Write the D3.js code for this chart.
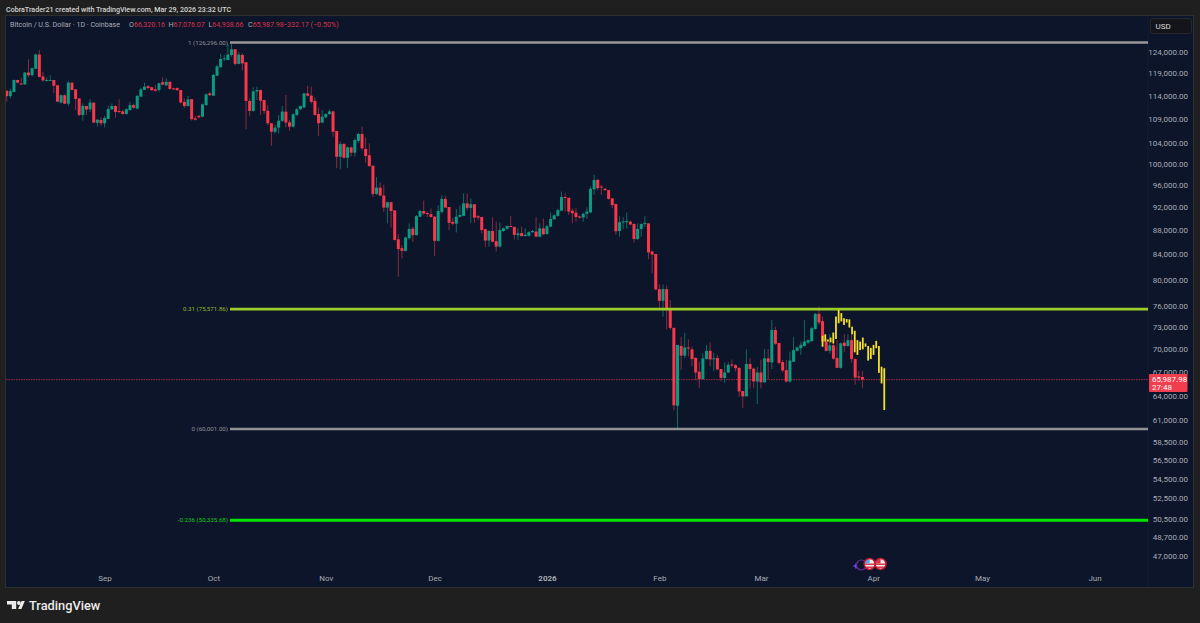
<!DOCTYPE html>
<html>
<head>
<meta charset="utf-8">
<script src="https://cdn.jsdelivr.net/npm/d3@7"></script>
<style>
  html, body { margin: 0; padding: 0; background: #1f1f1f; overflow: hidden; }
  svg { display: block; font-family: Roboto, "Liberation Sans", sans-serif; }
</style>
</head>
<body>
<svg id="chart" width="1200" height="623"></svg>
<script>
// daily BTCUSD candles in thousands of USD, first one is 2025-08-05
const firstDay = Date.UTC(2025, 7, 5);
const opens = [
  115.1,113.9,114.8,117.5,116.7,116.5,119.2,118.6,120.1,123.4,
  118.3,117.4,117.4,117.5,116.3,112.5,114.1,112.25,116.9,115.4,
  113.4,109.85,111.75,111.05,112.5,108.2,108.8,108.1,109.0,111.05,
  111.75,110.7,110.6,110.05,110.9,111.95,111.2,113.8,115.3,116.1,
  115.85,115.4,115.25,117.0,116.3,117.1,115.6,115.7,115.25,112.65,
  111.75,113.25,109.15,109.65,109.5,111.95,114.5,114.0,118.45,120.4,
  122.3,122.1,123.3,124.65,121.2,123.3,121.6,112.85,110.7,114.9,
  115.25,113.05,110.75,108.1,106.35,107.2,108.6,110.55,108.3,107.4,
  109.85,111.05,111.45,114.5,114.0,112.85,110.05,108.25,109.35,110.05,
  110.6,106.5,101.35,103.9,101.15,103.2,102.15,104.5,105.9,102.9,
  101.65,99.6,94.35,95.5,94.05,91.9,92.85,91.4,86.45,85.0,
  84.55,86.65,88.25,87.15,90.3,91.3,90.95,90.75,90.3,86.2,
  91.15,93.45,92.0,89.4,89.1,90.3,90.45,92.65,91.85,92.5,
  90.4,90.25,88.15,86.25,87.85,86.15,85.25,87.85,88.25,88.7,
  88.55,87.15,87.5,87.0,87.05,87.65,87.75,86.9,88.3,87.35,
  88.6,89.85,90.45,91.35,93.8,93.65,91.35,91.0,90.35,90.15,
  90.8,91.05,95.2,96.95,95.7,95.3,95.05,93.55,92.55,87.85,
  89.35,89.35,89.45,89.05,86.5,88.2,89.05,89.15,84.45,84.05,
  78.55,76.8,78.55,75.7,72.9,62.75,70.4,69.1,70.2,69.95,
  68.8,67.0,66.05,68.65,69.75,68.65,68.8,67.35,66.2,66.9,
  67.95,67.85,67.5,64.55,63.9,68.0,67.4,65.75,66.9,65.65,
  68.75,68.2,72.6,70.8,68.25,67.2,65.75,68.3,69.75,70.1,
  70.4,70.85,71.05,72.75,74.9,73.85,71.0,69.75,70.5,68.8,
  67.5,70.85,70.4,71.2,68.65,66.4,66.32
];
const highs = [
  115.1,115.6,117.6,117.6,118.0,119.3,122.3,120.3,123.7,124.5,
  119.4,118.1,118.6,117.5,116.3,114.3,114.3,117.3,117.0,115.4,
  113.4,112.3,111.8,113.25,112.5,108.95,109.35,109.6,111.85,112.3,
  111.95,113.2,110.9,111.25,112.65,112.3,114.15,115.65,116.9,116.35,
  116.0,116.35,116.9,118.1,117.9,117.1,115.75,115.85,115.25,113.4,
  113.95,113.25,109.65,109.85,112.3,114.5,114.9,118.9,121.0,123.6,
  123.3,125.9,126.2,124.7,124.0,123.7,121.6,113.4,115.85,116.0,
  115.25,113.05,111.95,108.1,107.75,109.85,111.75,114.15,108.8,110.2,
  111.4,111.9,114.65,116.2,116.0,113.65,111.45,110.9,110.2,111.05,
  110.75,106.5,104.35,104.0,103.4,103.4,105.0,106.2,107.4,105.2,
  104.0,99.75,97.5,96.5,96.0,92.95,92.95,91.4,87.35,85.5,
  86.9,89.15,88.6,90.6,91.55,93.15,91.2,91.75,90.45,92.35,
  94.05,94.0,92.0,90.1,91.65,92.25,94.45,94.45,93.55,92.5,
  90.6,90.3,88.25,88.0,90.2,89.45,89.3,88.45,88.85,90.4,
  88.55,88.3,88.6,88.3,87.85,88.0,90.2,89.15,90.0,88.9,
  91.05,90.75,91.75,94.8,94.45,93.65,91.75,91.85,90.5,91.0,
  91.95,95.7,97.9,97.1,96.0,95.45,95.05,93.55,92.55,90.4,
  90.25,91.05,89.6,89.15,89.15,89.15,90.4,89.15,84.55,84.05,
  79.3,79.25,79.1,76.9,72.95,70.55,71.65,72.2,71.3,70.3,
  68.9,68.3,69.4,70.55,70.9,69.45,69.2,67.35,68.2,68.25,
  68.6,68.0,67.55,64.55,69.95,68.75,67.55,67.65,68.55,70.0,
  70.0,74.0,73.05,70.8,68.55,68.55,69.65,71.65,70.3,71.0,
  74.0,71.3,73.05,75.0,75.95,74.5,71.45,72.0,72.0,71.2,
  70.9,72.0,72.0,72.0,68.75,67.1,67.08
];
const lows = [
  112.7,113.4,114.8,116.75,116.4,116.4,118.1,118.3,120.0,118.1,
  117.1,117.2,117.3,114.6,112.65,112.3,112.2,111.75,115.25,110.9,
  109.6,108.65,109.85,110.45,108.1,107.4,107.55,107.25,109.0,110.9,
  109.25,110.2,109.9,109.9,110.75,111.2,111.05,113.65,115.25,115.4,
  115.1,114.9,114.9,116.3,116.15,115.25,115.3,115.1,112.3,111.3,
  111.6,108.65,108.65,109.15,109.35,111.8,114.0,113.95,118.4,120.4,
  121.9,122.1,122.9,120.8,121.1,119.65,106.9,109.65,110.55,113.05,
  109.85,110.05,107.75,103.5,106.0,106.0,108.45,107.25,106.55,107.25,
  109.65,110.9,111.3,113.8,112.3,109.65,105.5,108.1,109.15,109.85,
  105.35,99.15,98.95,101.0,99.2,101.4,101.4,104.1,102.6,100.2,
  99.4,93.8,94.15,94.0,91.1,89.15,88.45,86.25,80.45,83.35,
  84.45,86.45,86.05,87.05,90.2,90.55,90.2,90.15,83.7,86.05,
  90.85,91.8,88.0,88.85,87.6,90.15,90.45,91.45,89.25,89.25,
  89.7,87.45,85.15,85.25,85.95,84.45,85.1,87.7,88.0,88.5,
  86.4,86.35,86.9,86.9,86.9,87.55,86.8,86.8,87.15,87.2,
  88.5,89.75,90.35,91.3,91.2,90.6,89.15,89.45,89.95,89.45,
  89.9,91.0,94.2,95.0,94.15,94.9,93.35,91.8,87.2,86.9,
  88.15,88.25,88.85,85.9,86.35,86.85,88.55,83.2,81.0,78.4,
  75.75,74.5,72.7,72.65,62.2,60.0,67.2,68.75,69.0,67.75,
  65.95,64.95,66.05,68.6,67.7,67.1,67.2,65.75,65.6,66.8,
  67.55,67.05,63.85,62.45,63.9,64.9,64.9,62.95,64.9,65.55,
  66.05,67.35,70.55,67.95,66.9,65.6,65.6,68.3,69.65,69.2,
  70.3,70.7,71.0,72.65,73.3,70.95,69.65,69.4,68.55,67.45,
  67.4,69.6,70.3,68.15,65.35,65.8,64.94
];
const closes = [
  113.9,115.0,117.5,116.9,116.5,119.2,118.6,120.2,123.4,118.2,
  117.4,117.5,117.5,116.2,112.7,114.1,112.25,116.9,115.25,113.3,
  109.85,111.8,111.0,112.5,108.25,108.85,108.1,109.2,111.1,111.75,
  110.5,110.5,110.05,111.05,111.95,111.4,113.95,115.4,116.0,115.7,
  115.2,115.1,116.75,116.45,117.1,115.5,115.4,115.2,112.5,111.75,
  113.2,108.95,108.85,109.35,112.1,114.3,114.1,118.65,120.6,122.35,
  122.5,123.4,124.65,121.2,123.4,121.3,112.85,110.7,114.95,115.25,
  112.9,110.7,108.1,106.35,107.2,108.65,110.55,108.25,107.4,110.0,
  111.05,111.75,114.5,114.0,112.65,109.85,108.1,109.5,110.05,110.6,
  106.35,101.35,103.85,101.15,103.2,102.15,104.67,105.9,103.0,101.5,
  99.55,94.35,95.5,94.05,91.9,92.85,91.3,86.35,84.85,84.55,
  86.75,88.2,87.15,90.4,91.3,90.85,90.75,90.25,86.2,91.3,
  93.45,91.9,89.25,89.1,90.3,90.6,92.65,91.85,92.5,90.15,
  90.15,88.0,86.25,87.85,86.05,85.25,88.0,88.3,88.7,88.6,
  87.2,87.45,87.0,87.2,87.65,87.85,86.9,88.3,87.3,88.65,
  89.9,90.55,91.45,93.8,93.65,91.2,90.9,90.25,90.15,90.8,
  91.2,95.3,96.9,95.4,95.55,95.05,93.45,92.35,87.8,89.35,
  89.5,89.55,88.95,86.5,88.2,89.05,89.2,84.3,83.95,78.5,
  76.8,78.55,75.6,72.9,62.8,70.55,69.1,70.2,70.05,68.65,
  66.9,66.05,68.75,69.75,68.6,68.75,67.3,66.2,66.9,67.9,
  67.8,67.45,64.5,63.9,68.0,67.35,65.75,66.9,65.65,68.75,
  68.25,72.6,70.7,68.15,67.15,65.75,68.45,69.85,70.2,70.55,
  71.0,71.2,72.85,74.9,73.65,71.0,69.75,70.5,68.7,67.5,
  70.75,70.4,71.2,68.65,66.25,66.25,65.99
];

// the yellow bars pattern copied onto the chart, starts on candle 225
const ghostStart = 225;
const ghostStep = 0.74;
const ghostHighs = [71.8,72.0,71.3,71.55,72.25,74.5,75.46,75.0,74.25,74.15,74.1,73.05,72.5,71.2,71.0,71.55,70.75,70.4,70.15,70.55,71.1,70.4,67.65,67.45];
const ghostLows = [70.3,71.0,71.0,70.9,70.75,71.35,73.55,73.8,73.3,73.65,72.95,72.0,69.55,69.2,69.85,69.95,70.3,68.45,68.65,69.2,70.1,66.85,65.5,62.24];

const priceTicks = [124000,119000,114000,109000,104000,100000,96000,92000,88000,84000,80000,76000,73000,70000,67000,64000,61000,58500,56500,54500,52500,50500,48700,47000];
const monthTicks = [[2025,8,'Sep'],[2025,9,'Oct'],[2025,10,'Nov'],[2025,11,'Dec'],[2026,0,'2026'],[2026,1,'Feb'],[2026,2,'Mar'],[2026,3,'Apr'],[2026,4,'May'],[2026,5,'Jun']];

const fibPrices = [126296, 75571.86, 60001, 50335.68];
const fibLabels = ['1 (126,296.00)', '0.31 (75,571.86)', '0 (60,001.00)', '-0.236 (50,335.68)'];
const fibColors = ['#989898', '#9ccc28', '#929292', '#00e600'];
const fibLabelColors = ['#8f9299', '#8fb52c', '#8f9299', '#11c911'];
const fibWidths = [2.7, 2.7, 2.7, 3];

const lastPrice = 65987.98;
const eventDays = [Date.UTC(2026, 2, 31), Date.UTC(2026, 3, 3)];

const dayMs = 86400000;
const x = d3.scaleUtc()
    .domain([firstDay, Date.UTC(2026, 5, 1)])
    .range([6.7, 1094.5]);
const y = d3.scaleLog()
    .domain([60001, 126296])
    .range([429, 42.5]);
const dayX = (i) => x(firstDay + i * dayMs);
const red = '#f7374a';
const green = '#0b9a82';

const svg = d3.select('#chart');
const paneRight = 1148;

svg.append('rect').attr('width', 1200).attr('height', 623).attr('fill', '#1f1f1f');
svg.append('rect')
    .attr('x', 5.5).attr('y', 15.5).attr('width', 1188).attr('height', 572)
    .attr('fill', '#0d152b').attr('stroke', '#2d2f33');

svg.append('defs').append('clipPath').attr('id', 'pane')
  .append('rect').attr('x', 6).attr('y', 16).attr('width', paneRight - 6).attr('height', 571);

svg.append('line')
    .attr('x1', paneRight).attr('x2', paneRight).attr('y1', 16).attr('y2', 587)
    .attr('stroke', '#141c30');

// last price line goes under the candles
svg.append('line')
    .attr('x1', 6).attr('x2', paneRight)
    .attr('y1', y(lastPrice)).attr('y2', y(lastPrice))
    .attr('stroke', '#a8253d').attr('stroke-dasharray', '1.5 1').attr('stroke-width', 1);

const candles = svg.append('g').attr('clip-path', 'url(#pane)');
const rows = d3.range(opens.length);

candles.selectAll('line.wick')
  .data(rows)
  .join('line')
    .attr('class', 'wick')
    .attr('x1', (i) => dayX(i)).attr('x2', (i) => dayX(i))
    .attr('y1', (i) => y(highs[i] * 1000))
    .attr('y2', (i) => y(lows[i] * 1000))
    .attr('stroke', (i) => closes[i] >= opens[i] ? '#0e6a62' : '#8a2b3d')
    .attr('stroke-width', 1);

candles.selectAll('rect.body')
  .data(rows)
  .join('rect')
    .attr('class', 'body')
    .attr('x', (i) => dayX(i) - 1.5)
    .attr('width', 3)
    .attr('y', (i) => y(Math.max(opens[i], closes[i]) * 1000))
    .attr('height', (i) => Math.max(1, Math.abs(y(opens[i] * 1000) - y(closes[i] * 1000))))
    .attr('fill', (i) => closes[i] >= opens[i] ? green : red);

// fib levels sit above the candles
const fibs = svg.append('g');
fibPrices.forEach((price, i) => {
    fibs.append('line')
        .attr('x1', 230).attr('x2', paneRight)
        .attr('y1', y(price)).attr('y2', y(price))
        .attr('stroke', fibColors[i])
        .attr('stroke-width', fibWidths[i]);
    fibs.append('text')
        .attr('x', 228).attr('y', y(price) + 2.2)
        .attr('text-anchor', 'end')
        .attr('font-size', 6.2)
        .attr('fill', fibLabelColors[i])
        .text(fibLabels[i]);
});

svg.append('g')
  .selectAll('line')
  .data(ghostHighs)
  .join('line')
    .attr('x1', (d, j) => dayX(ghostStart + j * ghostStep))
    .attr('x2', (d, j) => dayX(ghostStart + j * ghostStep))
    .attr('y1', (d) => y(d * 1000))
    .attr('y2', (d, j) => y(ghostLows[j] * 1000))
    .attr('stroke', '#f5e02e')
    .attr('stroke-width', 1.8);

// price axis
const yAxis = d3.axisRight(y)
    .tickValues(priceTicks)
    .tickFormat(d3.format(',.2f'))
    .tickSize(0);
const yAxisGroup = svg.append('g')
    .attr('transform', `translate(${paneRight},0)`)
    .call(yAxis);
yAxisGroup.select('.domain').remove();
yAxisGroup.selectAll('text')
    .attr('x', 40)
    .attr('text-anchor', 'end')
    .attr('font-family', 'Roboto, sans-serif')
    .attr('font-size', 8)
    .attr('fill', '#a9acb5');

// time axis
const xAxis = d3.axisBottom(x)
    .tickValues(monthTicks.map((m) => Date.UTC(m[0], m[1], 1)))
    .tickFormat((d, i) => monthTicks[i][2])
    .tickSize(0);
const xAxisGroup = svg.append('g')
    .attr('transform', 'translate(0,572)')
    .call(xAxis);
xAxisGroup.select('.domain').remove();
xAxisGroup.selectAll('text')
    .attr('y', 3)
    .attr('font-family', 'Roboto, sans-serif')
    .attr('font-size', 8)
    .attr('fill', '#a9acb5')
    .attr('font-weight', (d, i) => monthTicks[i][2] === '2026' ? 700 : 400);

// USD button and last price tag
svg.append('rect')
    .attr('x', 1150.5).attr('y', 18.5).attr('width', 41).attr('height', 15).attr('rx', 2)
    .attr('fill', '#14151a').attr('stroke', '#26282e');
svg.append('text')
    .attr('x', 1155.5).attr('y', 29)
    .attr('font-size', 8).attr('fill', '#d8d9dc')
    .text('USD');

const tagY = y(lastPrice) - 5.5;
svg.append('rect')
    .attr('x', 1149).attr('y', tagY).attr('width', 38.5).attr('height', 18).attr('rx', 1)
    .attr('fill', '#f23d4f');
svg.append('text')
    .attr('x', 1152).attr('y', tagY + 8)
    .attr('font-size', 8).attr('fill', '#fff')
    .text(d3.format(',.2f')(lastPrice));
svg.append('text')
    .attr('x', 1152).attr('y', tagY + 16)
    .attr('font-size', 8).attr('fill', '#fff')
    .text('27:48');

// economic event markers under the chart
const events = svg.append('g');
events.append('path').attr('d', 'M853.5 566h5M856 563.5v5').attr('stroke', '#7a4cff').attr('stroke-width', 1.6);
events.append('circle').attr('cx', 861.5).attr('cy', 565).attr('r', 5).attr('fill', '#0d152b').attr('stroke', '#6a2a98').attr('stroke-width', 1.2);
eventDays.forEach((day, n) => {
    const cx = x(day);
    const cy = 564;
    const clipId = `flag${n}`;
    events.append('clipPath').attr('id', clipId).append('circle').attr('cx', cx).attr('cy', cy).attr('r', 5);
    const flag = events.append('g').attr('clip-path', `url(#${clipId})`);
    flag.append('rect').attr('x', cx - 6).attr('y', cy - 6).attr('width', 12).attr('height', 12).attr('fill', '#f1e9ea');
    flag.append('rect').attr('x', cx - 6).attr('y', cy - 0.5).attr('width', 12).attr('height', 1.5).attr('fill', '#d8394a');
    flag.append('rect').attr('x', cx - 6).attr('y', cy + 2.5).attr('width', 12).attr('height', 1.5).attr('fill', '#d8394a');
    flag.append('rect').attr('x', cx - 6).attr('y', cy - 6).attr('width', 6).attr('height', 5.5).attr('fill', n === 0 ? '#5aa2e8' : '#d8394a');
    events.append('circle').attr('cx', cx).attr('cy', cy).attr('r', 5.5).attr('fill', 'none').attr('stroke', '#c8172d').attr('stroke-width', 1.4);
});

// top strip and legend
svg.append('text')
    .attr('x', 6).attr('y', 11.5)
    .attr('font-size', 7.1).attr('font-weight', 500).attr('fill', '#d5d5d5')
    .text('CobraTrader21 created with TradingView.com, Mar 29, 2026 23:32 UTC');

const legend = svg.append('g').attr('font-size', 7.1);
legend.append('text').attr('x', 10).attr('y', 27).attr('fill', '#a9acb5')
    .text('Bitcoin / U.S. Dollar · 1D · Coinbase');
const legendParts = [
    [129, 'O', '66,320.16'],
    [168.5, 'H', '67,076.07'],
    [208.5, 'L', '64,938.66'],
    [248, 'C', '65,987.98']
];
legendParts.forEach(([px, key, val]) => {
    const t = legend.append('text').attr('x', px).attr('y', 27);
    t.append('tspan').attr('fill', '#a9acb5').text(key);
    t.append('tspan').attr('fill', '#d8324a').text(val);
});
legend.append('text').attr('x', 283).attr('y', 27).attr('fill', '#d8324a')
    .text('−332.17 (−0.50%)');

// TradingView wordmark
const logo = svg.append('g').attr('fill', '#ececec');
logo.append('path').attr('d', 'M7 601h9.2v8h-4.4v-4.4H7z');
logo.append('circle').attr('cx', 18.9).attr('cy', 603).attr('r', 1.9);
logo.append('path').attr('d', 'M21.6 601h3.2l-3.4 8h-3.3z');
logo.append('text')
    .attr('x', 29).attr('y', 609.5)
    .attr('font-size', 12.8).attr('font-weight', 500)
    .text('TradingView');
</script>
</body>
</html>
